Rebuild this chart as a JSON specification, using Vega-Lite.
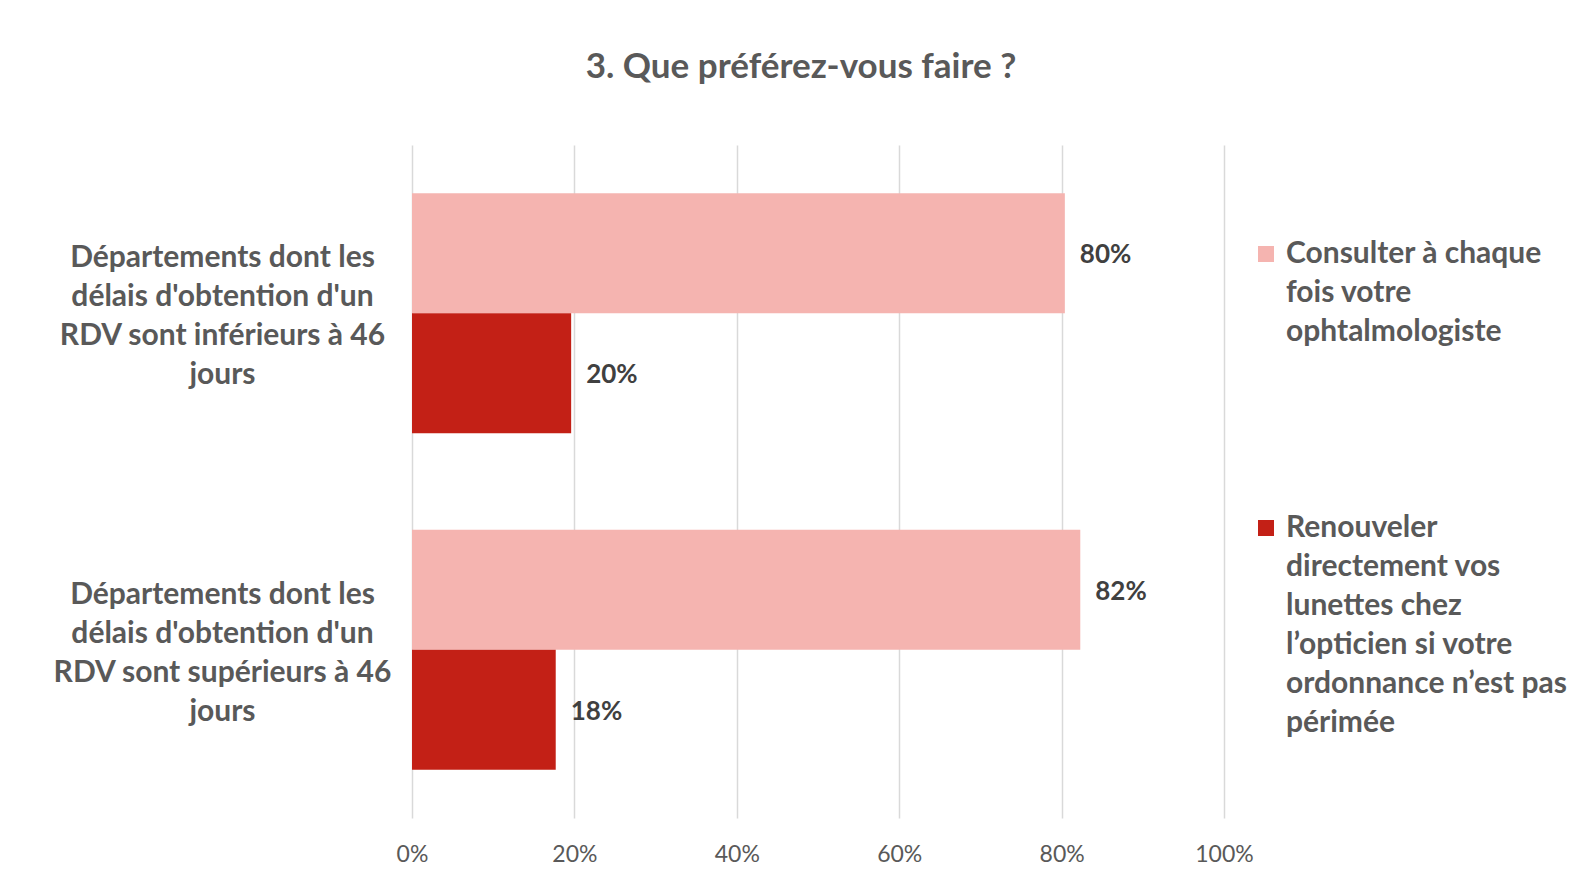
{
  "$schema": "https://vega.github.io/schema/vega-lite/v6.json",
  "width": 812,
  "height": 673,
  "autosize": "none",
  "padding": {"left": 412, "top": 145, "right": 370, "bottom": 74},
  "background": "white",
  "title": {"text": "3. Que préférez-vous faire ?", "font": "Lato", "fontSize": 35, "fontWeight": "bold", "color": "#595959", "anchor": "middle", "dx": -17, "offset": 60},
  "config": {"view": {"stroke": null}},
  "data": {"values": [
    {"groupe": "Départements dont les délais d'obtention d'un RDV sont inférieurs à 46 jours", "reponse": "Consulter à chaque fois votre ophtalmologiste", "part": 0.804},
    {"groupe": "Départements dont les délais d'obtention d'un RDV sont inférieurs à 46 jours", "reponse": "Renouveler directement vos lunettes chez l’opticien si votre ordonnance n’est pas périmée", "part": 0.196},
    {"groupe": "Départements dont les délais d'obtention d'un RDV sont supérieurs à 46 jours", "reponse": "Consulter à chaque fois votre ophtalmologiste", "part": 0.823},
    {"groupe": "Départements dont les délais d'obtention d'un RDV sont supérieurs à 46 jours", "reponse": "Renouveler directement vos lunettes chez l’opticien si votre ordonnance n’est pas périmée", "part": 0.177}
  ]},
  "encoding": {
    "y": {"field": "groupe", "type": "nominal", "sort": null,
      "scale": {"paddingInner": 0.287, "paddingOuter": 0.1435},
      "axis": {"title": null, "domain": false, "ticks": false, "tickSize": 0, "labelAlign": "center", "labelBaseline": "middle", "labelPadding": 190, "labelOffset": -55, "labelFont": "Lato", "labelFontSize": 30, "labelFontWeight": "bold", "labelColor": "#595959", "labelLineHeight": 39, "labelLimit": 0,
        "labelExpr": "indexof(datum.value, 'inférieurs') >= 0 ? [\"Départements dont les\", \"délais d'obtention d'un\", \"RDV sont inférieurs à 46\", \"jours\"] : [\"Départements dont les\", \"délais d'obtention d'un\", \"RDV sont supérieurs à 46\", \"jours\"]"}},
    "yOffset": {"field": "reponse", "type": "nominal", "sort": null, "scale": {"paddingInner": 0, "paddingOuter": 0}},
    "x": {"field": "part", "type": "quantitative", "scale": {"domain": [0, 1]},
      "axis": {"title": null, "format": ".0%", "values": [0, 0.2, 0.4, 0.6, 0.8, 1], "domain": false, "ticks": false, "grid": true, "gridColor": "#D9D9D9", "gridWidth": 1.5, "labelFlush": false, "labelFont": "Lato", "labelFontSize": 23, "labelColor": "#595959", "labelPadding": 25}}
  },
  "layer": [
    {"mark": {"type": "bar"},
      "encoding": {"color": {"field": "reponse", "type": "nominal", "sort": null,
        "scale": {"range": ["#F5B4B0", "#C32016"]},
        "legend": {"title": null, "orient": "none", "legendX": 839, "legendY": 94, "padding": 0, "symbolType": "square", "symbolSize": 256, "symbolStrokeWidth": 0, "labelFont": "Lato", "labelFontSize": 30, "labelFontWeight": "bold", "labelColor": "#595959", "labelLimit": 0, "labelBaseline": "middle", "labelOffset": 5, "rowPadding": 166,
          "encode": {"labels": {"update": {"lineHeight": {"value": 39}}}},
          "labelExpr": "indexof(datum.value, 'Consulter') >= 0 ? [\"Consulter à chaque\", \"fois votre\", \"ophtalmologiste\"] : [\"Renouveler\", \"directement vos\", \"lunettes chez\", \"l’opticien si votre\", \"ordonnance n’est pas\", \"périmée\"]"}}}},
    {"mark": {"type": "text", "align": "left", "baseline": "middle", "dx": 15, "dy": 2, "font": "Lato", "fontSize": 26, "fontWeight": "bold", "color": "#404040"},
      "encoding": {"text": {"field": "part", "type": "quantitative", "format": ".0%"}}}
  ]
}
